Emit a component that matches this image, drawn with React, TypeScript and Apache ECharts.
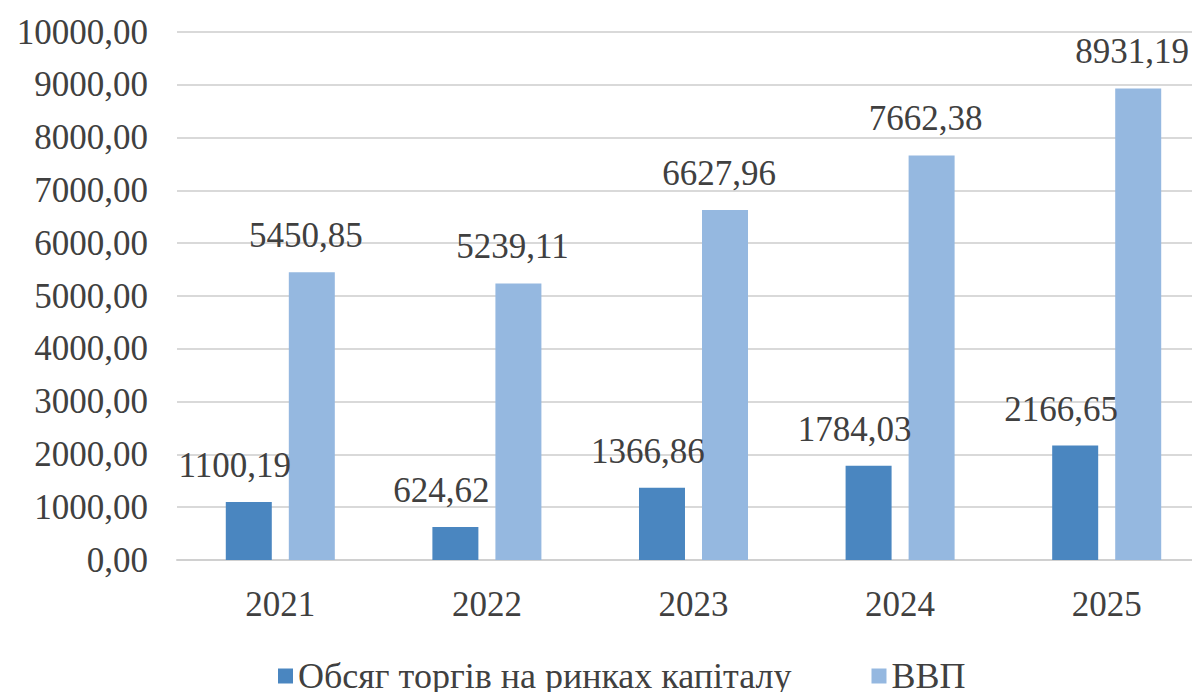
import React, { useEffect, useRef } from "react";
import * as echarts from "echarts";

const categories = ["2021", "2022", "2023", "2024", "2025"];
const tradeVolume = [1100.19, 624.62, 1366.86, 1784.03, 2166.65];
const gdp = [5450.85, 5239.11, 6627.96, 7662.38, 8931.19];
const seriesNames = ["Обсяг торгів на ринках капіталу", "ВВП"];

const fmt = (v: number) => v.toFixed(2).replace(".", ",");
const FONT = "'Liberation Serif', 'Times New Roman', serif";
const TEXT = "#404040";

export default function App() {
  const ref = useRef<HTMLDivElement>(null);
  useEffect(() => {
    if (!ref.current) return;
    const chart = echarts.init(ref.current, undefined, { renderer: "svg" });
    chart.setOption({
      animation: false,
      textStyle: { fontFamily: FONT, color: TEXT },
      grid: { left: 177, width: 1033, top: 32, bottom: 140 },
      legend: {
        bottom: 1,
        left: 273,
        itemWidth: 15,
        itemHeight: 15,
        itemGap: 80,
        icon: "rect",
        textStyle: { fontFamily: FONT, fontSize: 36, color: TEXT },
        data: seriesNames,
      },
      xAxis: {
        type: "category",
        data: categories,
        axisLine: { lineStyle: { color: "#d0d0d0", width: 2 } },
        axisTick: { show: false },
        axisLabel: { fontFamily: FONT, fontSize: 35, color: TEXT, margin: 27 },
      },
      yAxis: {
        type: "value",
        min: 0,
        max: 10000,
        interval: 1000,
        axisLine: { show: false },
        axisTick: { show: false },
        splitLine: { lineStyle: { color: "#d9d9d9", width: 2 } },
        axisLabel: {
          fontFamily: FONT,
          fontSize: 35,
          color: TEXT,
          margin: 29,
          formatter: (v: number) => fmt(v),
        },
      },
      series: [
        {
          name: seriesNames[0],
          type: "bar",
          data: tradeVolume,
          barWidth: 46,
          barGap: "37%",
          itemStyle: { color: "#4a86c0" },
          label: {
            show: true,
            position: "top",
            distance: 19,
            offset: [-14, 0],
            fontFamily: FONT,
            fontSize: 35,
            color: TEXT,
            formatter: (p: any) => fmt(p.value),
          },
        },
        {
          name: seriesNames[1],
          type: "bar",
          data: gdp,
          barWidth: 46,
          itemStyle: { color: "#95b8e0" },
          label: {
            show: true,
            position: "top",
            distance: 19,
            offset: [-6, 0],
            fontFamily: FONT,
            fontSize: 35,
            color: TEXT,
            formatter: (p: any) => fmt(p.value),
          },
        },
      ],
    });
    return () => chart.dispose();
  }, []);
  return (
    <div style={{ width: 1200, height: 700, margin: -8, overflow: "hidden" }}>
      <div ref={ref} style={{ width: 1240, height: 700 }} />
    </div>
  );
}
